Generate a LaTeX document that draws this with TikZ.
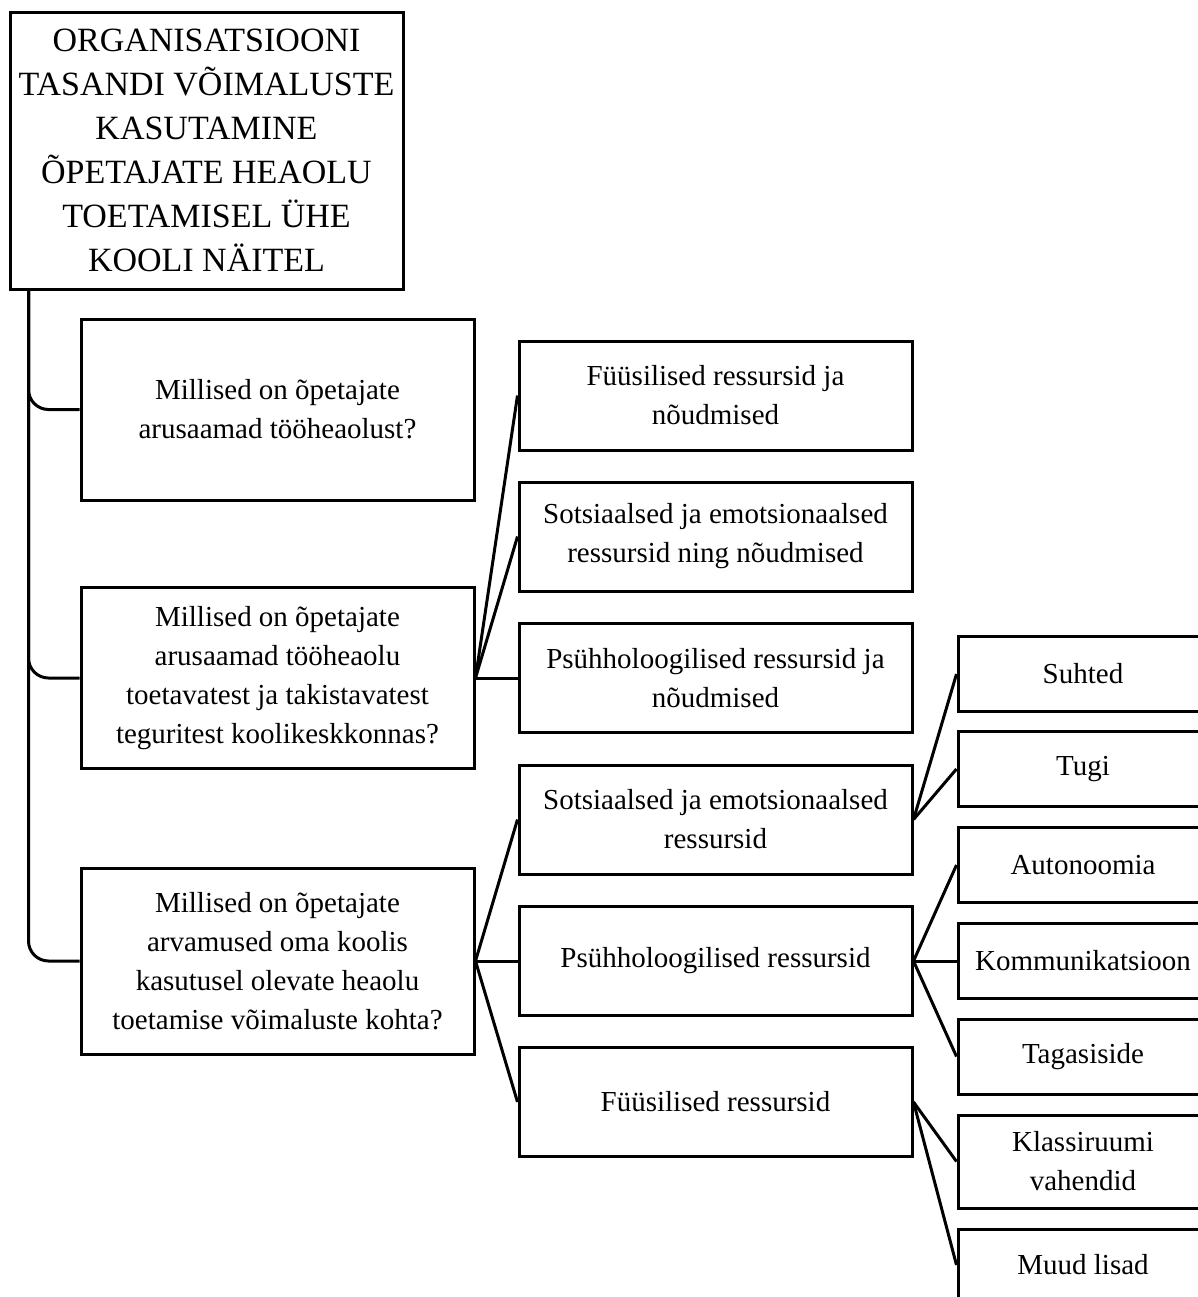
\documentclass[tikz,border=0pt]{standalone}
\usepackage{fontspec}
\setmainfont{Liberation Serif}
\begin{document}
\begin{tikzpicture}[x=0.5pt,y=-0.5pt,
  box/.style={draw,line width=1.5pt,align=center,inner sep=2pt,
    font=\fontsize{14.5}{19.5}\selectfont},
  qbox/.style={box,minimum width=196.5pt},
  mbox/.style={box,minimum width=196.5pt,minimum height=54.5pt},
  rbox/.style={box,minimum width=125pt,minimum height=37.5pt},
  link/.style={line width=1.5pt}]

\useasboundingbox (0,0) rectangle (1198,1297);
\clip (0,0) rectangle (1198,1297);

% main title
\node [box,minimum width=196.5pt,minimum height=138.5pt,
  font=\fontsize{17}{22}\selectfont] (root) at (206.5,150.5)
  {ORGANISATSIOONI\\TASANDI VÕIMALUSTE\\KASUTAMINE\\ÕPETAJATE HEAOLU\\TOETAMISEL ÜHE\\KOOLI NÄITEL};

% research questions
\node [qbox,minimum height=90.5pt] (q1) at (277.5,409.5)
  {Millised on õpetajate\\arusaamad tööheaolust?};
\node [qbox,minimum height=90.5pt] (q2) at (277.5,678)
  {Millised on õpetajate\\arusaamad tööheaolu\\toetavatest ja takistavatest\\teguritest koolikeskkonnas?};
\node [qbox,minimum height=93pt] (q3) at (277.5,961)
  {Millised on õpetajate\\arvamused oma koolis\\kasutusel olevate heaolu\\toetamise võimaluste kohta?};

\coordinate (trunk) at ([xshift=10pt]root.south west);
\draw [link,rounded corners=10pt] (trunk) |- (q1.west);
\draw [link,rounded corners=10pt] (trunk) |- (q2.west);
\draw [link,rounded corners=10pt] (trunk) |- (q3.west);

% themes
\node [mbox] (m1) at (715.5,395.5) {Füüsilised ressursid ja\\nõudmised};
\node [mbox] (m2) at (715.5,536.5) {Sotsiaalsed ja emotsionaalsed\\ressursid ning nõudmised};
\node [mbox] (m3) at (715.5,678) {Psühholoogilised ressursid ja\\nõudmised};
\node [mbox] (m4) at (715.5,819.5) {Sotsiaalsed ja emotsionaalsed\\ressursid};
\node [mbox] (m5) at (715.5,961) {Psühholoogilised ressursid};
\node [mbox] (m6) at (715.5,1102) {Füüsilised ressursid};

\draw [link] (q2.east) -- (m1.west);
\draw [link] (q2.east) -- (m2.west);
\draw [link] (q2.east) -- (m3.west);
\draw [link] (q3.east) -- (m4.west);
\draw [link] (q3.east) -- (m5.west);
\draw [link] (q3.east) -- (m6.west);

% subthemes
\node [rbox] (r1) at (1083,674) {Suhted};
\node [rbox] (r2) at (1083,769) {Tugi};
\node [rbox] (r3) at (1083,865) {Autonoomia};
\node [rbox] (r4) at (1083,961) {Kommunikatsioon};
\node [rbox] (r5) at (1083,1056.5) {Tagasiside};
\node [rbox,minimum height=46.5pt] (r6) at (1083,1161.5) {Klassiruumi\\vahendid};
\node [rbox,minimum height=36pt] (r7) at (1083,1265) {Muud lisad};

\draw [link] (m4.east) -- (r1.west);
\draw [link] (m4.east) -- (r2.west);
\draw [link] (m5.east) -- (r3.west);
\draw [link] (m5.east) -- (r4.west);
\draw [link] (m5.east) -- (r5.west);
\draw [link] (m6.east) -- (r6.west);
\draw [link] (m6.east) -- (r7.west);

\end{tikzpicture}
\end{document}
